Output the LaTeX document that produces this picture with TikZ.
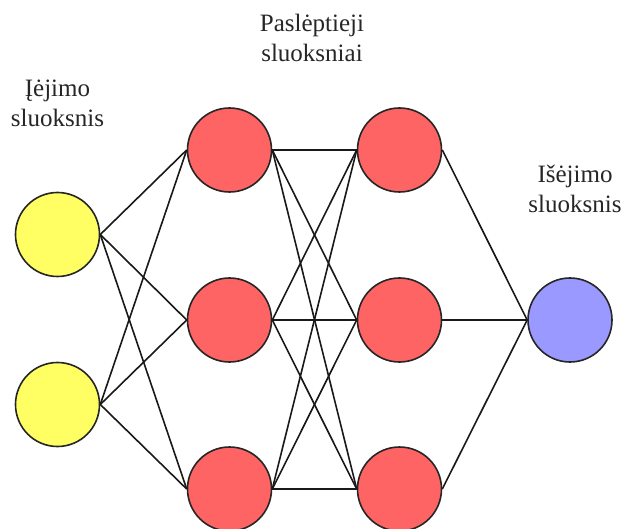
\documentclass[tikz,border=0pt]{standalone}
\usepackage{fontspec}
\setmainfont{Liberation Serif}
\begin{document}
\begin{tikzpicture}[x=1pt,y=-1pt,
  neuron/.style={circle,draw=black!85,line width=1.6pt,minimum size=84pt,inner sep=0pt},
  inputnode/.style={neuron,fill=inyellow},
  hiddennode/.style={neuron,fill=hidred},
  outputnode/.style={neuron,fill=outblue},
  link/.style={draw=black!90,line width=1.6pt},
  layerlabel/.style={align=center,inner sep=0pt,font=\fontsize{25}{30}\selectfont,text=black!85}]
\definecolor{inyellow}{RGB}{255,255,100}
\definecolor{hidred}{RGB}{255,100,100}
\definecolor{outblue}{RGB}{153,153,255}
\useasboundingbox (0,0) rectangle (624,529);

% neurons
\node[inputnode] (i1) at (57.5,234.5) {};
\node[inputnode] (i2) at (57.5,404.5) {};
\node[hiddennode] (a1) at (229.5,150) {};
\node[hiddennode] (a2) at (229.5,320) {};
\node[hiddennode] (a3) at (229.5,489) {};
\node[hiddennode] (b1) at (399.5,150) {};
\node[hiddennode] (b2) at (399.5,320) {};
\node[hiddennode] (b3) at (399.5,489) {};
\node[outputnode] (o) at (570,320) {};

% connections
\foreach \s in {i1,i2}
  \foreach \t in {a1,a2,a3}
    \draw[link] (\s.east) -- (\t.west);
\foreach \s in {a1,a2,a3}
  \foreach \t in {b1,b2,b3}
    \draw[link] (\s.east) -- (\t.west);
\foreach \s in {b1,b2,b3}
  \draw[link] (\s.east) -- (o.west);

% layer labels (base anchor sits on the second line)
\node[layerlabel,anchor=base] (lin) at (57.5,127) {Įėjimo\\sluoksnis};
\node[layerlabel,anchor=base] (lhid) at (312,62) {Paslėptieji\\sluoksniai};
\node[layerlabel,anchor=base] (lout) at (575,213) {Išėjimo\\sluoksnis};
\end{tikzpicture}
\end{document}
